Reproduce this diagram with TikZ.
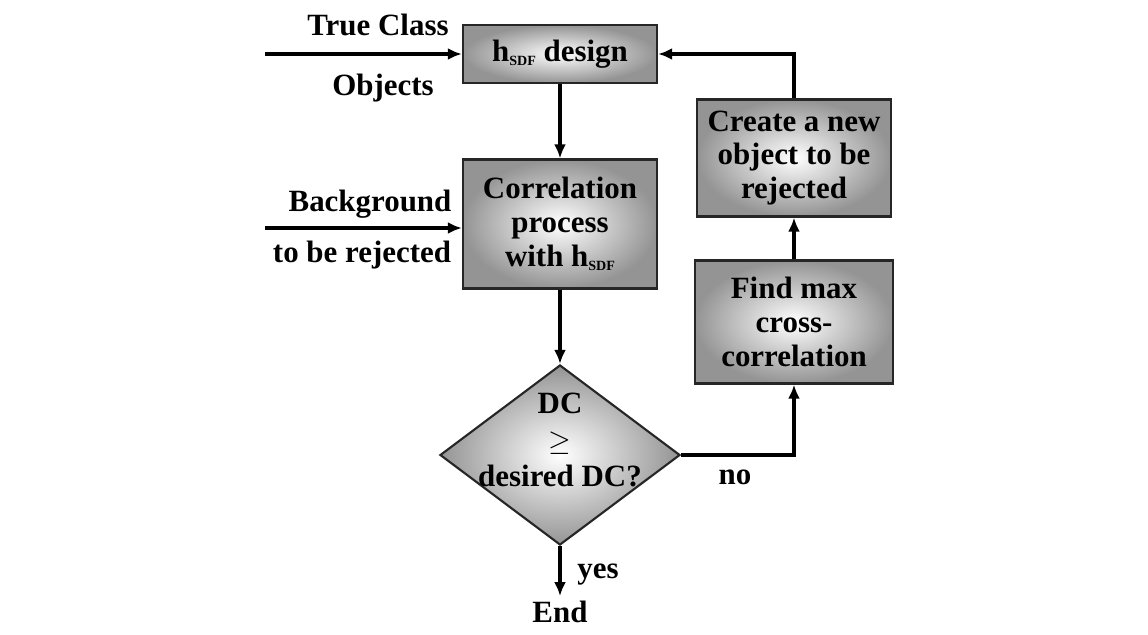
\documentclass[tikz,border=0pt]{standalone}
\usepackage{fontspec}
\setmainfont{Liberation Serif}
\usepackage{tikz}
\usetikzlibrary{shapes.geometric,arrows.meta}
\newcommand{\hsdf}{h\raisebox{-0.3ex}{\fontsize{10}{11}\selectfont SDF}}

\begin{document}
\begin{tikzpicture}[x=0.025cm,y=-0.025cm,
        font=\bfseries\fontsize{22}{24}\selectfont,
        box/.style={draw=black!85,line width=1.5pt,shading=radial,inner color=white,outer color=black!42,align=center,minimum width=4.85cm},
        flow/.style={line width=2.2pt,-{Latex[length=10pt,width=8.5pt]}}]
        \useasboundingbox (0,0) rectangle (1148,634);
        \node[box,minimum height=1.45cm] (design) at (560,54) {\hsdf{} design};
        \node[box,minimum height=3.225cm] (corr) at (560,224) {Correlation\\process\\with \hsdf};
        \node[box,minimum height=2.925cm] (create) at (794,158) {Create a new\\object to be\\rejected};
        \node[box,minimum width=4.95cm,minimum height=3.075cm] (find) at (794,322) {Find max\\cross-\\correlation};
        \node[diamond,draw=black!85,line width=1.5pt,shading=radial,inner color=white,outer color=black!42,minimum width=6cm,minimum height=4.5cm,inner sep=0pt] (dec) at (560,455) {};
        \node[align=center,font=\bfseries\fontsize{22}{26}\selectfont] (dectext) at (560,440) {DC\\$\geq$\\desired DC?};
        \node (end) at (560,612) {End};
        \node (yes) at (598,575) {yes};
        \node (no) at (735,477) {no};
        \node (tc) at (378,25) {True Class};
        \node (obj) at (383,88) {Objects};
        \node (bg) at (370,204) {Background};
        \node (tbr) at (362,255) {to be rejected};
        \coordinate (tcin) at (265,54);
        \coordinate (bgin) at (265,228);
        \draw[flow] (tcin) -- (design.west);
        \draw[flow] (bgin) -- (corr.west |- bgin);
        \draw[flow] (design) -- (corr);
        \draw[flow] (corr) -- (dec.north);
        \draw[flow] (dec.south) -- (end);
        \draw[flow] (dec.east) -| (find.south);
        \draw[flow] (find) -- (create);
        \draw[flow] (create.north) |- (design.east);
\end{tikzpicture}
\end{document}
